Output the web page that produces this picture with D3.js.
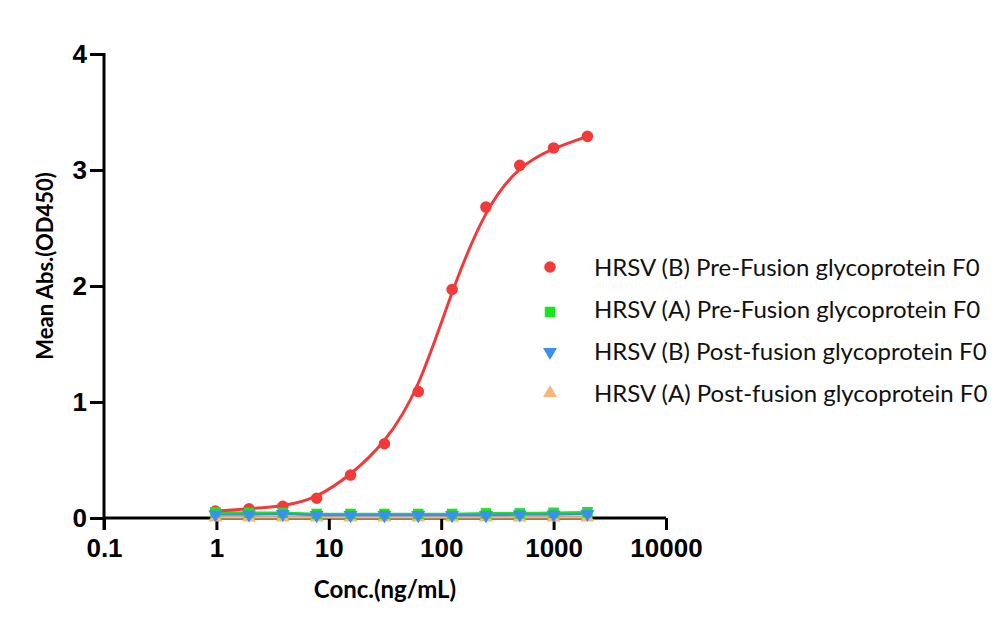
<!DOCTYPE html>
<html><head><meta charset="utf-8">
<script src="https://cdn.jsdelivr.net/npm/d3@7"></script>
<style>body{margin:0;background:#fff}</style>
</head><body>
<svg id="c" width="1000" height="630"></svg>
<script>
const conc = [0.98, 1.95, 3.9, 7.8, 15.6, 31.25, 62.5, 125, 250, 500, 1000, 2000];
const bPre = [0.06, 0.08, 0.1, 0.17, 0.37, 0.64, 1.09, 1.97, 2.68, 3.04, 3.19, 3.29];
const aPre = [0.05, 0.045, 0.045, 0.035, 0.035, 0.035, 0.035, 0.035, 0.04, 0.04, 0.045, 0.05];
const bPost = [0.03, 0.03, 0.035, 0.025, 0.025, 0.025, 0.025, 0.025, 0.025, 0.03, 0.03, 0.035];
const aPost = [0.005, 0.005, 0.005, 0.005, 0.005, 0.005, 0.005, 0.005, 0.005, 0.005, 0.005, 0.005];
const xTicks = [0.1, 1, 10, 100, 1000, 10000];
const xTickLabels = ["0.1", "1", "10", "100", "1000", "10000"];
const yTicks = [0, 1, 2, 3, 4];
const seriesNames = ["HRSV (B) Pre-Fusion glycoprotein F0", "HRSV (A) Pre-Fusion glycoprotein F0", "HRSV (B) Post-fusion glycoprotein F0", "HRSV (A) Post-fusion glycoprotein F0"];
const colors = ["#f23a3a", "#19e619", "#3d8ef0", "#f7b877"];

const svg = d3.select("#c");
const x = d3.scaleLog().domain([0.1, 10000]).range([104, 666]);
const y = d3.scaleLinear().domain([0, 4]).range([518, 54]);

const xa = svg.append("g").attr("transform", "translate(0,518)")
  .call(d3.axisBottom(x).tickValues(xTicks).tickFormat((d,i)=>xTickLabels[i]).tickSize(12).tickPadding(9));
const ya = svg.append("g").attr("transform", "translate(104,0)")
  .call(d3.axisLeft(y).tickValues(yTicks).tickFormat(d3.format("d")).tickSize(14).tickPadding(3));
[xa, ya].forEach(g => {
  g.select(".domain").attr("stroke", "#000").attr("stroke-width", 3);
  g.selectAll(".tick line").attr("stroke", "#000").attr("stroke-width", 3);
  g.selectAll(".tick text").attr("fill", "#000").style("font-family", "Liberation Sans, Arial, sans-serif")
   .style("font-weight", "bold").style("font-size", "26px");
});
xa.select(".domain").attr("d", "M104,0H666");
ya.select(".domain").attr("d", "M0,53V530");

const line = d3.line().x((d,i)=>x(conc[i])).y(d=>y(d));
svg.append("path").datum(aPost).attr("d", line).attr("fill","none").attr("stroke", colors[3]).attr("stroke-width", 2.5);
svg.append("path").datum(aPre).attr("d", line).attr("fill","none").attr("stroke", colors[1]).attr("stroke-width", 2.5);
svg.append("path").datum(bPost).attr("d", line).attr("fill","none").attr("stroke", colors[2]).attr("stroke-width", 2.5);
const smooth = d3.line().x((d,i)=>x(conc[i])).y(d=>y(d)).curve(d3.curveBasis);
svg.append("path").datum(bPre).attr("d", smooth).attr("fill","none").attr("stroke", colors[0]).attr("stroke-width", 3);

const sym = [d3.symbolCircle, d3.symbolSquare, d3.symbolTriangle, d3.symbolTriangle];
const sizes = [105, 110, 85, 85];
const rot = [0, 0, 180, 0];
const order = [0, 3, 1, 2];
const data = [bPre, aPre, bPost, aPost];
order.forEach(k => {
  svg.append("g").selectAll("path").data(data[k]).join("path")
    .attr("d", d3.symbol().type(sym[k]).size(sizes[k]))
    .attr("transform", (d,i)=>`translate(${x(conc[i])},${y(d)}) rotate(${rot[k]})`)
    .attr("fill", colors[k]);
});

const lg = svg.append("g");
const legMarkY = [267, 312, 352, 393];
seriesNames.forEach((n, k) => {
  const yy = 276 + k*42;
  lg.append("path").attr("d", d3.symbol().type(sym[k]).size(sizes[k]))
    .attr("transform", `translate(550,${legMarkY[k]}) rotate(${rot[k]})`).attr("fill", colors[k]);
  lg.append("text").attr("x", 594).attr("y", yy).text(n)
    .style("font-family", "Lato, sans-serif").style("font-size", "24px").attr("fill", "#111");
});

svg.append("text").attr("transform", "translate(53,266) rotate(-90)").attr("text-anchor","middle")
  .text("Mean Abs.(OD450)").style("font-family","Lato, sans-serif").style("font-weight","bold").style("font-size","22px");
svg.append("text").attr("x", 385).attr("y", 598).attr("text-anchor","middle")
  .text("Conc.(ng/mL)").style("font-family","Lato, sans-serif").style("font-weight","bold").style("font-size","24px");
</script>
</body></html>
